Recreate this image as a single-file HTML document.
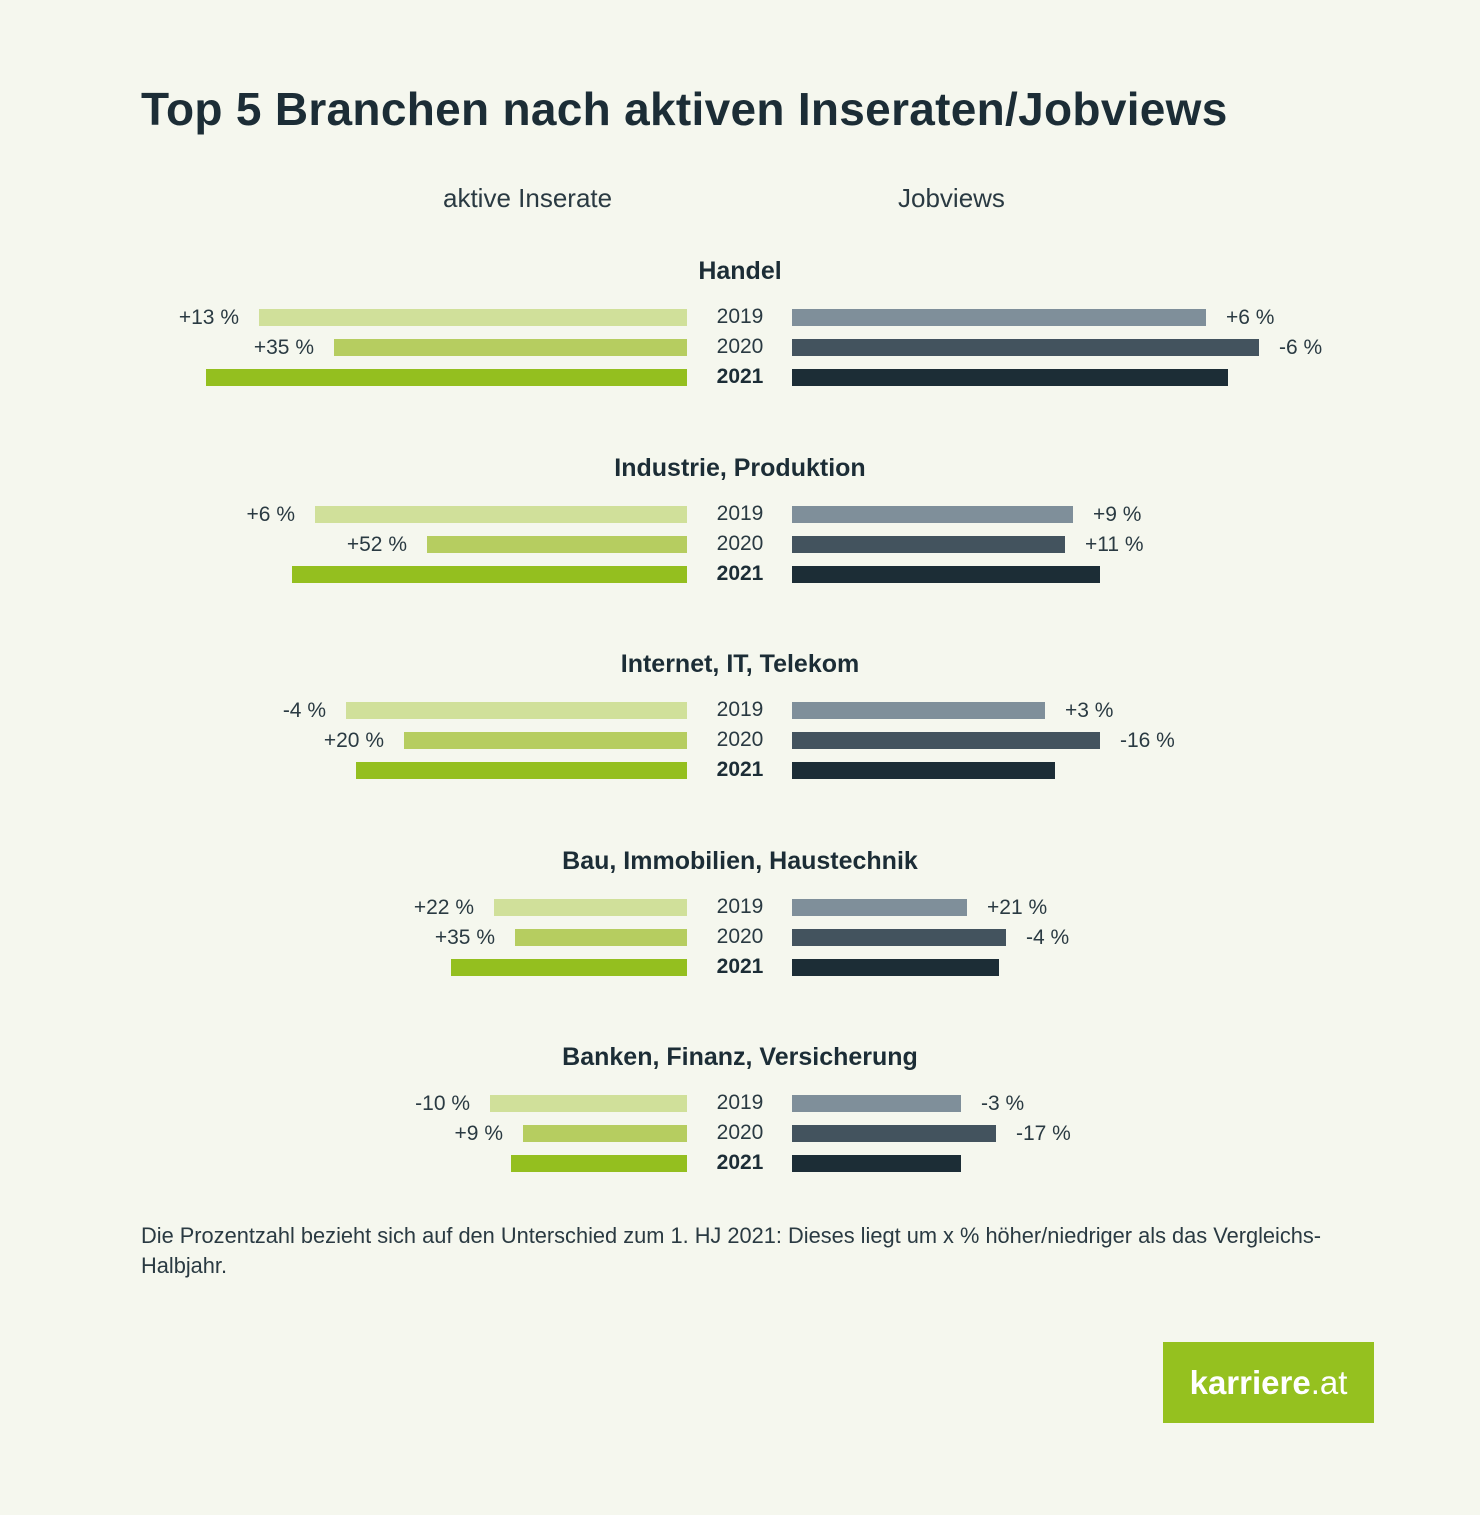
<!DOCTYPE html><html><head><meta charset="utf-8"><style>
body{margin:0;background:#f5f7ee;}
#c{position:relative;width:1480px;height:1515px;background:#f5f7ee;font-family:"Liberation Sans",sans-serif;color:#1c2d36;overflow:hidden}
.a{position:absolute;white-space:nowrap}
.b{position:absolute;height:17px}
.t{font-weight:bold;font-size:25px;width:1480px;left:0;text-align:center}
.l{font-size:21px;color:#2a3a42}
.y{font-size:21px;color:#2a3a42;left:700px;width:80px;text-align:center}
</style></head><body><div id="c">
<div class="a" style="left:141px;top:82px;font-size:46px;font-weight:bold;letter-spacing:0.3px">Top 5 Branchen nach aktiven Inseraten/Jobviews</div>
<div class="a" style="left:443px;top:183px;font-size:26px;color:#2a3a42">aktive Inserate</div>
<div class="a" style="left:898px;top:183px;font-size:26px;color:#2a3a42">Jobviews</div>
<div id="g"></div>
<div class="a" style="left:141px;top:1221px;font-size:21.8px;color:#2a3a42;line-height:30px">Die Prozentzahl bezieht sich auf den Unterschied zum 1. HJ 2021: Dieses liegt um x % höher/niedriger als das Vergleichs-<br>Halbjahr.</div>
<div class="a" style="left:1163px;top:1342px;width:211px;height:81px;background:#95c11f;color:#fff;font-size:33px;font-weight:bold;text-align:center;line-height:81px">karriere<span style="font-weight:normal">.at</span></div>
</div>
<script>
var d=[["Handel",[259,334,206],[1206,1259,1228],["+13 %","+35 %"],["+6 %","-6 %"]],
["Industrie, Produktion",[315,427,292],[1073,1065,1100],["+6 %","+52 %"],["+9 %","+11 %"]],
["Internet, IT, Telekom",[346,404,356],[1045,1100,1055],["-4 %","+20 %"],["+3 %","-16 %"]],
["Bau, Immobilien, Haustechnik",[494,515,451],[967,1006,999],["+22 %","+35 %"],["+21 %","-4 %"]],
["Banken, Finanz, Versicherung",[490,523,511],[961,996,961],["-10 %","+9 %"],["-3 %","-17 %"]]];
var lc=["#d0e09a","#b6cd60","#94bf1f"],rc=["#7f8f9a","#43535e","#1c2d36"],yr=["2019","2020","2021"],h="";
d.forEach(function(g,i){var T=257+i*196.5;
h+='<div class="a t" style="top:'+T+'px">'+g[0]+'</div>';
for(var j=0;j<3;j++){var y=T+52+j*30;
h+='<div class="b" style="top:'+y+'px;left:'+g[1][j]+'px;width:'+(687-g[1][j])+'px;background:'+lc[j]+'"></div>';
h+='<div class="b" style="top:'+y+'px;left:792px;width:'+(g[2][j]-792)+'px;background:'+rc[j]+'"></div>';
h+='<div class="a y" style="top:'+(y-4)+'px;'+(j==2?'font-weight:bold;color:#1c2d36':'')+'">'+yr[j]+'</div>';
if(j<2){h+='<div class="a l" style="top:'+(y-3)+'px;right:'+(1480-g[1][j]+20)+'px">'+g[3][j]+'</div>';
h+='<div class="a l" style="top:'+(y-3)+'px;left:'+(g[2][j]+20)+'px">'+g[4][j]+'</div>';}}
});
document.getElementById("g").innerHTML=h;
</script></body></html>
